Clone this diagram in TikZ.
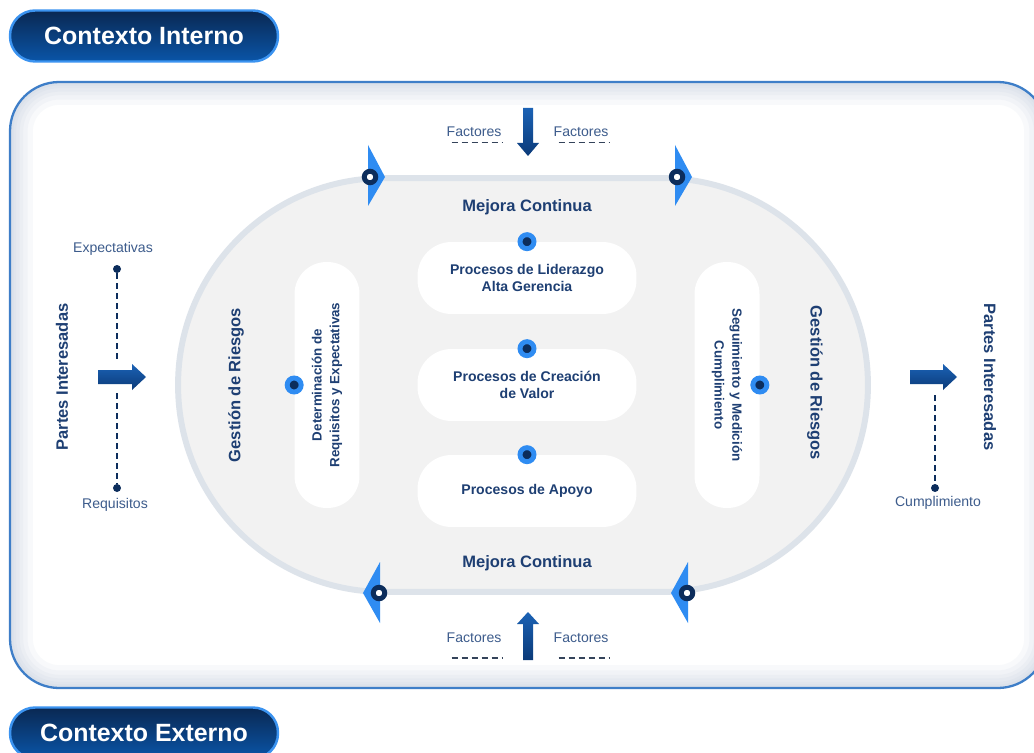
\documentclass[tikz,border=0pt]{standalone}
\usepackage{fontspec}
\setmainfont{Liberation Sans}

\definecolor{azulosc}{HTML}{1E3F73}
\definecolor{azultxt}{HTML}{3D5C8C}
\definecolor{azulpunto}{HTML}{2F8CF2}
\definecolor{azulnoche}{HTML}{0C2D5C}
\definecolor{azulborde}{HTML}{3E7EC8}
\definecolor{grisfondo}{HTML}{F2F2F2}
\definecolor{grisborde}{HTML}{DDE3EA}
\definecolor{sombra}{HTML}{9FB2CA}
\definecolor{pillarriba}{HTML}{0A2852}
\definecolor{pillabajo}{HTML}{0A55A8}
\definecolor{pillborde}{HTML}{3B93F0}
\definecolor{flechaosc}{HTML}{0B3A78}
\definecolor{flechaclara}{HTML}{1B62B5}
\definecolor{rayagris}{HTML}{34435A}

\begin{document}
\begin{tikzpicture}[x=0.02cm, y=-0.02cm]
    \tikzstyle{every node} = [align=center, inner sep=0pt, font=\fontsize{8}{10}\selectfont]
    \tikzstyle{titulo} = [rounded corners=0.5cm, minimum width=5.36cm, minimum height=1.02cm,
        top color=pillarriba, bottom color=pillabajo, draw=pillborde, line width=1.4pt,
        text=white, font=\fontsize{14.2}{16}\selectfont\bfseries]
    \tikzstyle{titulo2} = [text=azulosc, font=\fontsize{9.4}{11}\selectfont\bfseries]
    \tikzstyle{etiqueta} = [text=azultxt]
    \tikzstyle{procbox} = [fill=white, rounded corners=0.68cm, minimum width=4.38cm, minimum height=1.44cm,
        text=azulosc, font=\fontsize{8}{9.8}\selectfont\bfseries]
    \tikzstyle{vertbox} = [fill=white, rounded corners=0.64cm, minimum width=4.92cm, minimum height=1.3cm,
        text=azulosc, font=\fontsize{7.6}{10}\selectfont\bfseries]
    \tikzstyle{bola} = [circle, fill=azulnoche, draw=azulpunto, line width=2.8pt, minimum size=0.28cm]
    \tikzstyle{marca} = [circle, fill=white, draw=azulnoche, line width=2.8pt, minimum size=0.23cm]
    \tikzstyle{punto} = [circle, fill=azulnoche, minimum size=0.16cm]
    \tikzstyle{guion} = [draw=azulnoche, line width=0.8pt, dash pattern=on 3.4pt off 2.3pt]
    \tikzstyle{raya} = [draw=rayagris, line width=1.1pt, dash pattern=on 3.4pt off 2.3pt]
    \tikzstyle{flecha} = [top color=flechaclara, bottom color=flechaosc]
    \tikzstyle{punta} = [fill=azulpunto]

    \useasboundingbox (0,0) rectangle (1034,753);
    \fill[white] (0,0) rectangle (1034,753);

    % marco
    \begin{scope}
        \clip[rounded corners=28pt] (10,82) rectangle (1047,688);
        \foreach \w in {26,20,15,11,7,4}
            \draw[sombra, line width=\w pt, opacity=0.07, rounded corners=28pt] (10,82) rectangle (1047,688);
    \end{scope}
    \draw[azulborde, line width=1.3pt, rounded corners=28pt] (10,82) rectangle (1047,688);

    \node[titulo] (ci) at (144,36) {Contexto Interno};
    \node[titulo] (ce) at (144,733) {Contexto Externo};

    % pista
    \node[fill=grisfondo, draw=grisborde, line width=3.4pt, rounded corners=4.13cm,
        minimum width=13.8cm, minimum height=8.28cm] (pista) at (523,385) {};

    \node[titulo2] (mc1) at (527,207) {Mejora Continua};
    \node[titulo2] (mc2) at (527,563) {Mejora Continua};

    \node[procbox] (lid) at (527,278) {Procesos de Liderazgo\\Alta Gerencia};
    \node[procbox] (val) at (527,385) {Procesos de Creación\\de Valor};
    \node[procbox] (apo) at (527,491) {Procesos de Apoyo};

    \node[vertbox, rotate=90] (det) at (327,385) {Determinación de\\Requisitos y Expectativas};
    \node[vertbox, rotate=-90] (seg) at (727,385) {Seguimiento y Medición\\Cumplimiento};

    \node[bola] (b1) at (lid.north) {};
    \node[bola] (b2) at (val.north) {};
    \node[bola] (b3) at (apo.north) {};
    \node[bola] (b4) at (det.north) {};
    \node[bola] (b5) at (seg.north) {};

    \node[titulo2, rotate=90] (gr1) at (236,385) {Gestión de Riesgos};
    \node[titulo2, rotate=-90] (gr2) at (815,383) {Gestión de Riesgos};

    \node[titulo2, rotate=90] (pi1) at (62,377) {Partes Interesadas};
    \node[titulo2, rotate=-90] (pi2) at (990,377) {Partes Interesadas};

    % puntas sobre la pista
    \fill[punta] (368,145) -- (385,177) -- (368,206) -- cycle;
    \fill[punta] (675,145) -- (692,177) -- (675,206) -- cycle;
    \fill[punta] (380,562) -- (363,593) -- (380,623) -- cycle;
    \fill[punta] (688,562) -- (671,593) -- (688,623) -- cycle;
    \node[marca] (m1) at (370,177) {};
    \node[marca] (m2) at (677,177) {};
    \node[marca] (m3) at (379,593) {};
    \node[marca] (m4) at (687,593) {};

    % flechas
    \shade[flecha] (523,108) -- (533,108) -- (533,143) -- (539,143) -- (528,156)
        -- (517,143) -- (523,143) -- cycle;
    \shade[flecha] (528,612) -- (539,624) -- (533,624) -- (533,660) -- (523,660)
        -- (523,624) -- (517,624) -- cycle;
    \shade[flecha] (98,370) -- (132,370) -- (132,364) -- (146,377) -- (132,390)
        -- (132,384) -- (98,384) -- cycle;
    \shade[flecha] (910,370) -- (943,370) -- (943,364) -- (957,377) -- (943,390)
        -- (943,384) -- (910,384) -- cycle;

    \node[etiqueta] (f1) at (474,132) {Factores};
    \node[etiqueta] (f2) at (581,132) {Factores};
    \node[etiqueta] (f3) at (474,638) {Factores};
    \node[etiqueta] (f4) at (581,638) {Factores};
    \draw[raya] ([xshift=3pt, yshift=-3pt]f1.south west) -- ([xshift=1pt, yshift=-3pt]f1.south east);
    \draw[raya] ([xshift=3pt, yshift=-3pt]f2.south west) -- ([xshift=1pt, yshift=-3pt]f2.south east);
    \draw[raya] ([xshift=3pt, yshift=-8.2pt]f3.south west) -- ([xshift=1pt, yshift=-8.2pt]f3.south east);
    \draw[raya] ([xshift=3pt, yshift=-8.2pt]f4.south west) -- ([xshift=1pt, yshift=-8.2pt]f4.south east);

    % partes interesadas
    \node[etiqueta] (lexp) at (113,249) {Expectativas};
    \node[etiqueta] (lreq) at (115,505) {Requisitos};
    \node[etiqueta] (lcum) at (938,503) {Cumplimiento};

    \node[punto] (pe) at (117,269) {};
    \node[punto] (pr) at (117,488) {};
    \node[punto] (pc) at (935,488) {};
    \coordinate (pe2) at (117,363);
    \coordinate (pr2) at (117,393);
    \coordinate (pc2) at (935,395);

    \draw[guion] (pe) -- (pe2);
    \draw[guion] (pr2) -- (pr);
    \draw[guion] (pc2) -- (pc);
\end{tikzpicture}
\end{document}
